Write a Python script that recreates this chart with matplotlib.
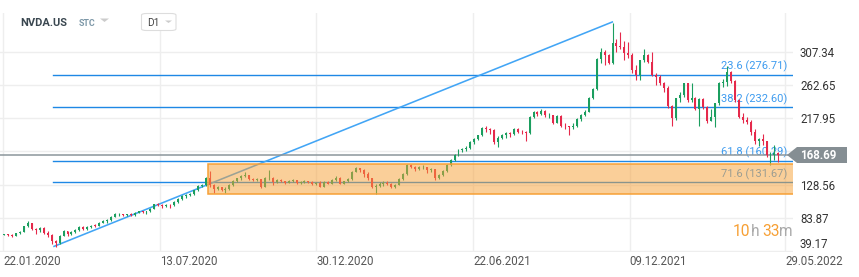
import numpy as np
import matplotlib.pyplot as plt
from matplotlib.patches import Rectangle, Polygon, FancyBboxPatch

plt.rcParams['font.family'] = ['Roboto', 'DejaVu Sans']

# NVDA.US, candles of 3 trading days each, 22.01.2020 .. 25.05.2022
first_open = 61.0
close = [61.5, 61.0, 60.0, 63.5, 65.0, 72.5, 76.5, 68.5, 67.0, 70.0,
         63.0, 60.5, 52.0, 50.0, 60.0, 66.0, 62.0, 65.0, 67.0, 72.0,
         69.0, 71.5, 73.5, 73.0, 77.5, 80.0, 80.5, 85.5, 88.5, 89.0,
         88.0, 88.5, 88.0, 91.0, 92.5, 91.5, 92.5, 96.0, 102.0, 100.5,
         99.5, 101.5, 101.0, 105.0, 109.0, 113.0, 115.0, 115.5, 121.0, 127.0,
         127.5, 138.0, 128.0, 123.0, 125.0, 121.0, 123.0, 128.0, 133.0, 137.0,
         140.0, 141.0, 136.0, 135.0, 136.0, 126.0, 137.0, 138.0, 132.0, 135.0,
         133.0, 131.0, 134.0, 134.5, 131.0, 132.0, 133.0, 132.0, 129.0, 131.0,
         126.0, 132.0, 130.0, 135.0, 138.0, 130.0, 133.0, 136.0, 146.0, 151.0,
         148.0, 143.0, 137.0, 126.0, 127.0, 129.0, 131.0, 130.0, 126.0, 128.0,
         136.0, 143.0, 155.0, 152.0, 150.0, 152.0, 153.0, 148.0, 149.0, 138.0,
         142.0, 147.0, 155.0, 162.0, 168.0, 175.0, 176.0, 178.0, 186.0, 190.0,
         195.0, 205.0, 203.0, 202.0, 186.0, 192.0, 196.0, 198.0, 197.0, 204.0,
         200.0, 199.0, 198.0, 220.0, 226.0, 224.0, 228.0, 222.0, 222.0, 212.0,
         221.0, 208.0, 207.0, 206.0, 208.0, 217.0, 222.0, 227.0, 245.0, 258.0,
         298.0, 308.0, 303.0, 293.0, 319.0, 316.0, 314.0, 306.0, 303.0, 283.0,
         277.0, 296.0, 303.0, 294.0, 276.0, 274.0, 265.0, 259.0, 234.0, 219.0,
         245.0, 250.0, 265.0, 242.0, 246.0, 231.0, 244.0, 233.0, 215.0, 220.0,
         238.0, 266.0, 267.0, 281.0, 268.0, 243.0, 220.0, 216.0, 213.0, 200.0,
         188.0, 190.0, 187.0, 169.0, 169.0, 171.0, 168.69]
high = [62.5, 62.5, 61.5, 64.0, 66.0, 73.5, 79.0, 77.0, 70.0, 72.0,
        71.0, 66.0, 62.0, 54.0, 61.0, 67.0, 66.5, 66.0, 68.5, 73.0,
        72.5, 72.5, 74.5, 75.0, 78.5, 81.5, 82.0, 86.5, 91.0, 90.5,
        89.5, 89.5, 90.0, 92.0, 93.5, 93.5, 93.5, 96.5, 103.0, 104.0,
        102.0, 103.0, 103.0, 106.0, 110.0, 114.0, 116.5, 117.0, 122.0, 128.5,
        130.0, 139.0, 147.0, 129.0, 127.0, 126.0, 125.0, 129.0, 134.5, 138.0,
        141.0, 145.0, 141.0, 138.0, 137.5, 136.5, 139.0, 148.0, 138.5, 136.0,
        136.5, 134.0, 135.0, 136.0, 135.0, 133.5, 134.5, 134.0, 133.0, 132.0,
        134.0, 133.5, 134.0, 136.0, 140.0, 138.5, 134.0, 137.0, 147.0, 153.0,
        151.5, 149.0, 145.0, 138.0, 129.0, 132.0, 133.5, 133.0, 131.0, 130.0,
        137.0, 144.0, 156.0, 157.0, 153.5, 154.0, 155.5, 153.0, 151.0, 150.0,
        143.5, 148.0, 156.0, 163.0, 169.5, 176.0, 178.5, 180.0, 188.0, 192.0,
        196.0, 206.0, 208.0, 205.0, 203.0, 193.5, 197.5, 200.0, 199.5, 205.5,
        205.0, 202.0, 201.0, 221.0, 228.0, 227.5, 230.5, 229.0, 225.0, 223.0,
        222.5, 222.0, 212.0, 208.0, 211.0, 218.0, 223.5, 229.0, 247.0, 259.0,
        299.0, 313.0, 310.0, 304.0, 346.0, 325.0, 334.0, 322.0, 321.0, 306.0,
        290.0, 297.0, 311.0, 305.0, 307.0, 279.0, 276.0, 267.0, 261.0, 236.0,
        246.0, 254.0, 266.0, 266.0, 266.0, 247.0, 245.0, 246.0, 234.0, 230.0,
        239.0, 267.0, 271.0, 289.0, 282.0, 270.0, 244.0, 225.0, 220.0, 216.0,
        203.0, 192.0, 197.0, 188.0, 172.0, 182.0, 172.0]
low = [60.5, 59.5, 58.5, 59.5, 62.5, 64.5, 72.0, 67.5, 62.5, 65.0,
       62.0, 58.5, 49.0, 45.0, 49.0, 59.0, 60.0, 61.0, 64.0, 66.5,
       67.5, 68.0, 70.5, 71.5, 72.5, 77.0, 77.5, 80.0, 85.0, 86.5,
       86.0, 86.5, 87.0, 86.5, 90.0, 90.0, 89.5, 92.0, 95.5, 99.5,
       97.0, 98.5, 97.5, 100.0, 104.0, 108.5, 110.5, 113.5, 115.0, 120.0,
       125.0, 127.0, 126.0, 117.0, 121.0, 119.5, 118.0, 121.0, 127.0, 131.5,
       135.5, 138.5, 134.5, 133.0, 133.0, 124.0, 125.5, 135.0, 128.5, 131.0,
       132.0, 129.5, 130.5, 132.5, 130.0, 129.5, 131.0, 130.5, 128.0, 128.0,
       125.0, 125.5, 129.0, 129.5, 134.0, 129.0, 129.5, 132.0, 135.5, 145.0,
       145.0, 139.0, 135.0, 124.0, 115.7, 125.0, 127.0, 128.0, 124.5, 124.0,
       127.5, 135.0, 142.0, 150.5, 147.0, 148.5, 150.0, 144.0, 145.5, 135.0,
       136.5, 140.0, 146.0, 154.0, 160.0, 167.0, 172.5, 174.0, 176.5, 184.0,
       188.5, 194.0, 199.0, 197.0, 184.0, 179.0, 189.5, 192.0, 193.0, 196.0,
       198.0, 196.5, 188.0, 197.0, 218.0, 221.0, 222.5, 220.0, 218.5, 210.0,
       211.0, 206.0, 203.5, 195.5, 204.0, 206.5, 214.0, 220.5, 226.0, 244.0,
       256.0, 293.0, 290.0, 290.5, 291.0, 307.0, 311.0, 296.0, 299.0, 279.0,
       270.0, 269.0, 294.0, 292.0, 275.0, 263.0, 263.0, 254.0, 232.0, 208.0,
       216.0, 240.0, 247.0, 240.0, 240.0, 229.0, 208.0, 230.0, 212.0, 214.0,
       206.0, 236.0, 260.0, 262.0, 266.0, 240.0, 218.0, 212.0, 210.0, 196.0,
       183.0, 180.0, 182.0, 166.0, 155.0, 162.0, 159.0]

# x axis in trading days since 22.01.2020
tick_days = [0, 119, 238, 357, 476, 594]
tick_labels = ['22.01.2020', '13.07.2020', '30.12.2020', '22.06.2021', '09.12.2021', '29.05.2022']
price_ticks = [307.34, 262.65, 217.95, 173.26, 128.56, 83.87, 39.17]
last_price = 168.69

fib_names = ['23.6', '38.2', '61.8', '71.6']
fib_levels = [276.71, 232.60, 160.29, 131.67]
fib_start = 38.2
trend_days = [38.2, 463.4]
trend_prices = [45.0, 348.2]
box_days = [155.7, 610]
box_prices = [115.6, 156.0]

W, H = 859, 277
fig = plt.figure(figsize=(W / 100, H / 100), dpi=100)
ax = fig.add_axes([0, 25 / H, 793 / W, 239 / H])
ax.set_xlim(-2.28, 600.1)
ax.set_ylim(37.82, 359.9)
for s in ax.spines.values():
    s.set_visible(False)

# grid
for d in tick_days:
    ax.axvline(d, color='#eeeeee', lw=1, zorder=0)
for p in price_ticks:
    ax.axhline(p, color='#eeeeee', lw=1, zorder=0)

# candles
c = np.array(close)
o = np.array([first_open] + close[:-1])
x = np.arange(len(c)) * 3 + 1
col = np.where(c >= o, '#1b9e5f', '#e5294b')
ax.vlines(x, low, high, colors=col, lw=0.8, zorder=3)
ax.bar(x, np.maximum(np.abs(c - o), 0.7), bottom=np.minimum(o, c), width=1.5,
       color=col, lw=0, zorder=3)

# fibonacci levels + trend line
for name, lev in zip(fib_names, fib_levels):
    ax.plot([fib_start, 610], [lev, lev], color='#1e88e5', lw=1.0, zorder=2)
    ax.annotate(f'{name} ({lev:.2f})', xy=(0.9925, lev), xycoords=('axes fraction', 'data'),
                xytext=(0, 3.8), textcoords='offset points', ha='right', va='baseline',
                fontsize=8, color='#3d9bef', zorder=2)
ax.plot(trend_days, trend_prices, color='#42a5f5', lw=1.15, zorder=2, solid_capstyle='butt')
ax.axhline(last_price, color='#8c969b', lw=1.1, zorder=2)

# orange zone
ax.add_patch(Rectangle((box_days[0], box_prices[0]), box_days[1] - box_days[0],
                       box_prices[1] - box_prices[0], facecolor='#f7a035', alpha=0.5,
                       lw=0, zorder=4))
ax.add_patch(Rectangle((box_days[0], box_prices[0]), box_days[1] - box_days[0],
                       box_prices[1] - box_prices[0], facecolor='none', edgecolor='#f7a035',
                       lw=1.1, zorder=4))

# axes labels
ax.yaxis.tick_right()
ax.set_yticks(price_ticks)
ax.set_yticklabels([f'{p:.2f}' if abs(p - 173.26) > 0.01 else '' for p in price_ticks])
ax.tick_params(axis='y', length=0, pad=5, labelsize=8.3, labelcolor='#333333')
ax.get_yticklabels()[-1].set_va('bottom')
ax.set_xticks(tick_days, tick_labels)
ax.tick_params(axis='x', length=0, pad=2.5, labelsize=8.3, labelcolor='#555555')
for lbl in ax.get_xticklabels():
    lbl.set_ha('left')


def P(px, py):
    return (px / W, 1 - py / H)


# last price tag
fig.add_artist(Polygon([P(787, 155), P(797, 147), P(847, 147), P(847, 163), P(797, 163)],
                       closed=True, transform=fig.transFigure, facecolor='#858e93', lw=0))
fig.text(*P(800, 155.5), '168.69', color='white', fontsize=8.3, fontweight='bold',
         ha='left', va='center')

# countdown
for txt, px, clr in [('10', 733, '#f7a035'), ('h', 750.5, '#aaaaaa'),
                     ('33', 762, '#f7a035'), ('m', 779, '#aaaaaa')]:
    fig.text(*P(px, 236.5), txt, color=clr, fontsize=11.2, ha='left', va='baseline')

# header
fig.text(*P(20.5, 23.5), 'NVDA.US', fontsize=8, fontweight='bold', color='#3a4750',
         ha='left', va='center')
fig.text(*P(79, 23.5), 'STC', fontsize=6.4, fontweight='bold', color='#7d98a8',
         ha='left', va='center')
fig.add_artist(Polygon([P(100, 18.5), P(109, 18.5), P(104.5, 22)], closed=True,
                       transform=fig.transFigure, facecolor='#cccccc', lw=0))
fig.add_artist(FancyBboxPatch(P(141.5, 30.5), 34.5 / W, 17 / H,
                              boxstyle='round,pad=0,rounding_size=0.006',
                              transform=fig.transFigure, facecolor='white',
                              edgecolor='#dddddd', lw=0.8))
fig.text(*P(147, 23.5), 'D1', fontsize=7.3, color='#444444', ha='left', va='center')
fig.add_artist(Polygon([P(165, 20.5), P(172, 20.5), P(168.5, 23)], closed=True,
                       transform=fig.transFigure, facecolor='#cccccc', lw=0))

fig.savefig('out.png', dpi=100, facecolor='white')
